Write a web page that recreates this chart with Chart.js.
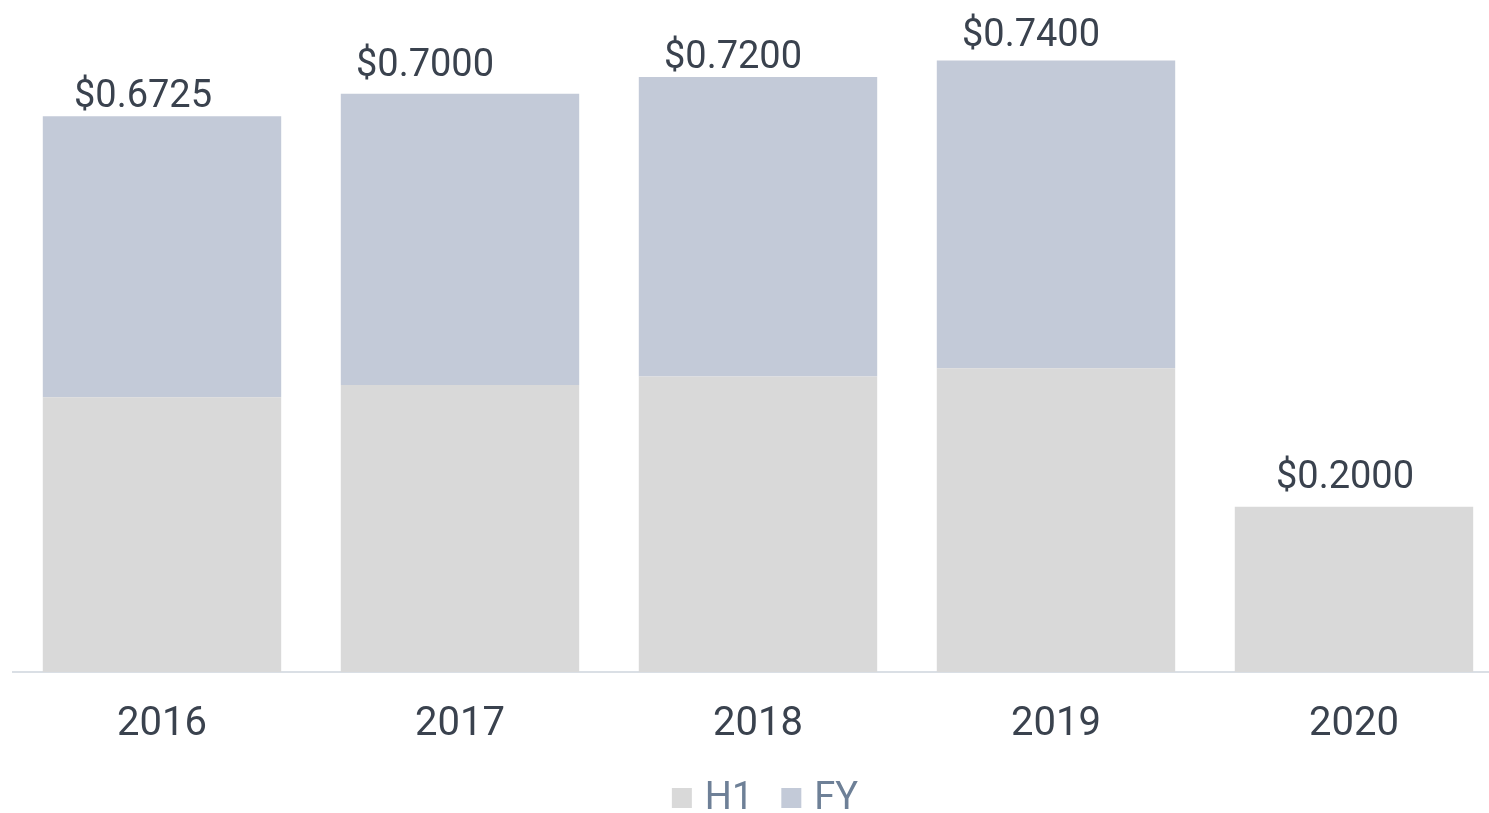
<!DOCTYPE html>
<html>
<head>
<meta charset="utf-8">
<script src="https://cdn.jsdelivr.net/npm/chart.js@4/dist/chart.umd.min.js"></script>
<style>
  html, body { margin: 0; padding: 0; background: #ffffff; }
  #wrap { width: 1489px; height: 813px; overflow: hidden; position: relative; }
  canvas { display: block; }
</style>
</head>
<body>
<div id="wrap"><canvas id="chart" width="1503" height="813"></canvas></div>
<script>
// --- data ---
const years = ['2016', '2017', '2018', '2019', '2020'];
const h1Values = [0.3325, 0.3475, 0.3575, 0.3675, 0.2000];
const fyValues = [0.3400, 0.3525, 0.3625, 0.3725, null];   // second-half part stacked on H1
const seriesNames = ['H1', 'FY'];

// --- styling ---
const H1_COLOR = '#d9d9d9';
const FY_COLOR = '#c3cad8';
const TEXT_DARK = '#3a424e';
const LEGEND_TEXT = '#6e8097';
// the total labels in the original sit a bit off-centre / at uneven heights
const labelNudgeX = [-19, -35, -25, -25, -9];
const labelGapY = [9, 18, 9, 15, 19];

// total ($x.xxxx) above each stacked bar
const totalLabels = {
  id: 'totalLabels',
  afterDatasetsDraw(chart) {
    const ctx = chart.ctx;
    const yScale = chart.scales.y;
    const meta = chart.getDatasetMeta(0);
    ctx.save();
    ctx.font = '38px Roboto';
    ctx.fillStyle = TEXT_DARK;
    ctx.textAlign = 'center';
    ctx.textBaseline = 'alphabetic';
    years.forEach((yr, i) => {
      const total = (h1Values[i] || 0) + (fyValues[i] || 0);
      const x = meta.data[i].x + labelNudgeX[i];
      const y = yScale.getPixelForValue(total);
      ctx.fillText('$' + total.toFixed(4), x, y - labelGapY[i]);
    });
    ctx.restore();
  }
};

// small legend at the bottom (square swatch, tight gap to the text)
const bottomLegend = {
  id: 'bottomLegend',
  afterDraw(chart) {
    const ctx = chart.ctx;
    const area = chart.chartArea;
    const box = 20, textGap = 13, itemGap = 28;
    const baseline = chart.height - 4;
    ctx.save();
    ctx.font = '38px Roboto';
    ctx.textBaseline = 'alphabetic';
    const items = chart.data.datasets.map(ds => ({
      text: ds.label, color: ds.backgroundColor, w: ctx.measureText(ds.label).width
    }));
    let total = 0;
    items.forEach((it, i) => { total += box + textGap + it.w + (i ? itemGap : 0); });
    let x = (area.left + area.right) / 2 - total / 2 + 7;
    items.forEach(it => {
      ctx.fillStyle = it.color;
      ctx.fillRect(x, baseline - 21, box, box);
      x += box + textGap;
      ctx.fillStyle = LEGEND_TEXT;
      ctx.fillText(it.text, x, baseline);
      x += it.w + itemGap;
    });
    ctx.restore();
  }
};

const ctx = document.getElementById('chart').getContext('2d');
new Chart(ctx, {
  type: 'bar',
  data: {
    labels: years,
    datasets: [
      { label: seriesNames[0], data: h1Values, backgroundColor: H1_COLOR, borderWidth: 0 },
      { label: seriesNames[1], data: fyValues, backgroundColor: FY_COLOR, borderWidth: 0 }
    ]
  },
  options: {
    responsive: false,
    animation: false,
    devicePixelRatio: 1,
    layout: { padding: { left: 13, right: 0, top: 11, bottom: 35 } },
    datasets: { bar: { categoryPercentage: 1.0, barPercentage: 0.8 } },
    scales: {
      x: {
        stacked: true,
        grid: { display: false, drawTicks: false },
        border: { display: true, color: '#dadfe5', width: 2 },
        ticks: { font: { family: 'Roboto', size: 40 }, color: TEXT_DARK, padding: 29 }
      },
      y: {
        stacked: true,
        display: false,
        min: 0,
        max: 0.8
      }
    },
    plugins: {
      legend: { display: false },
      tooltip: { enabled: false }
    }
  },
  plugins: [totalLabels, bottomLegend]
});
</script>
</body>
</html>
